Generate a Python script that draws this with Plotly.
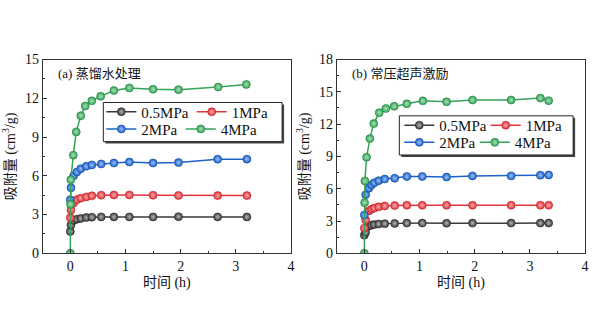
import plotly.graph_objects as go

# ---------------- data ----------------
series_names = ["0.5MPa", "1MPa", "2MPa", "4MPa"]
colors = ["#3a3a3a", "#e5343a", "#1c62cf", "#33a456"]
highlight = ["#b5b5b5", "#f6aaac", "#9cc0f2", "#a9e0b8"]
edge = ["#2a2a2a", "#b82228", "#134a9e", "#22803f"]

# (a) distilled water treatment
t_a = [0.0, 0.012, 0.06, 0.12, 0.19, 0.29, 0.39, 0.56, 0.79, 1.07, 1.5, 1.96, 2.67, 3.2]
a_05 = [1.70, 2.20, 2.55, 2.64, 2.70, 2.77, 2.80, 2.82, 2.82, 2.82, 2.82, 2.84, 2.82, 2.82]
a_1 = [2.75, 3.36, 3.90, 4.15, 4.27, 4.37, 4.45, 4.50, 4.52, 4.52, 4.50, 4.48, 4.47, 4.47]
a_2 = [4.15, 5.07, 6.00, 6.30, 6.55, 6.74, 6.84, 6.92, 6.99, 7.07, 6.99, 7.03, 7.29, 7.29]
t_a4 = [0.0, 0.004, 0.01, 0.054, 0.107, 0.19, 0.27, 0.39, 0.55, 0.79, 1.07, 1.5, 1.96, 2.68, 3.19]
a_4 = [0.0, 3.80, 5.70, 7.60, 9.40, 10.65, 11.40, 11.80, 12.15, 12.60, 12.80, 12.70, 12.67, 12.87, 13.07]

# (b) atmospheric-pressure ultrasonic excitation
t_b = [0.0, 0.024, 0.084, 0.13, 0.18, 0.26, 0.37, 0.55, 0.77, 1.05, 1.49, 1.96, 2.66, 3.19, 3.34]
b_05 = [1.69, 1.95, 2.55, 2.62, 2.67, 2.72, 2.76, 2.78, 2.81, 2.81, 2.80, 2.81, 2.81, 2.81, 2.81]
b_1 = [2.34, 3.10, 3.94, 4.10, 4.20, 4.32, 4.40, 4.44, 4.47, 4.47, 4.47, 4.47, 4.47, 4.47, 4.47]
b_2 = [3.55, 5.45, 6.05, 6.35, 6.55, 6.75, 6.90, 6.98, 7.14, 7.14, 7.08, 7.19, 7.19, 7.26, 7.28]
t_b4 = [0.0, 0.005, 0.01, 0.041, 0.10, 0.17, 0.27, 0.39, 0.54, 0.77, 1.06, 1.49, 1.96, 2.66, 3.19, 3.34]
b_4 = [0.0, 4.71, 6.72, 8.92, 10.66, 12.05, 13.06, 13.45, 13.65, 13.89, 14.16, 14.07, 14.24, 14.24, 14.42, 14.18]

panel_titles = ["(a) 蒸馏水处理", "(b) 常压超声激励"]
x_title = "时间 (h)"
y_title = "吸附量 (cm<sup>3</sup>/g)"
x_ticks = [0, 1, 2, 3, 4]
y_ticks_a = [0, 3, 6, 9, 12, 15]
y_ticks_b = [0, 3, 6, 9, 12, 15, 18]

FONT = "Liberation Serif, Times New Roman, Noto Sans CJK SC, serif"
W, H = 600, 332

def px(x):
    return x / W

def py(y):
    return 1 - y / H

# legend layout (pixel positions of each entry: left x, center y)
legend_pos = {
    "a": [(102, 110), (193, 110), (102, 128), (182, 128)],
    "b": [(402, 124), (489, 124), (402, 142), (478, 142)],
}
legend_boxes = {"a": (104, 100, 284, 141), "b": (402, 114, 577, 155)}

fig = go.Figure()

panels = [
    ("x", "y", [(t_a, a_05), (t_a, a_1), (t_a, a_2), (t_a4, a_4)], "a"),
    ("x2", "y2", [(t_b, b_05), (t_b, b_1), (t_b, b_2), (t_b4, b_4)], "b"),
]
legend_layout = {}
k = 0
for xa, ya, data, tag in panels:
    for i, (tt, vv) in enumerate(data):
        k += 1
        lname = "legend" if k == 1 else f"legend{k}"
        fig.add_trace(go.Scatter(
            x=tt, y=vv, name=series_names[i], xaxis=xa, yaxis=ya, legend=lname,
            mode="lines+markers",
            line=dict(color=colors[i], width=1.5),
            marker=dict(size=8, color=colors[i],
                        gradient=dict(type="radial", color=highlight[i]),
                        line=dict(width=0.6, color=edge[i])),
        ))
        lx, ly = legend_pos[tag][i]
        legend_layout[lname] = dict(
            x=px(lx), y=py(ly), xanchor="left", yanchor="middle",
            bgcolor="rgba(0,0,0,0)", borderwidth=0,
            font=dict(family=FONT, size=15, color="#111111"), itemwidth=30,
        )

axis_common = dict(
    showline=True, linecolor="#333333", linewidth=1, mirror=True,
    ticks="inside", ticklen=4, tickwidth=1, tickcolor="#333333",
    showgrid=False, zeroline=False,
    tickfont=dict(family=FONT, size=14, color="#111111"),
)
xdom_a = [px(43), px(293)]
xdom_b = [px(339), px(589)]
ydom = [py(258), py(55)]

fig.update_layout(
    width=W, height=H, margin=dict(l=0, r=0, t=0, b=0),
    paper_bgcolor="white", plot_bgcolor="white",
    font=dict(family=FONT, color="#111111"),
    xaxis=dict(domain=xdom_a, range=[-0.5, 4], tickvals=x_ticks, anchor="y",
               minor=dict(ticks="inside", ticklen=2, dtick=0.5, tick0=0, tickcolor="#333333"),
               title=dict(text=x_title, font=dict(size=14, family=FONT), standoff=4), **axis_common),
    yaxis=dict(domain=ydom, range=[0, 15], tickvals=y_ticks_a, anchor="x",
               minor=dict(ticks="inside", ticklen=2, dtick=1.5, tick0=0, tickcolor="#333333"),
               title=dict(text=y_title, font=dict(size=14, family=FONT), standoff=6), **axis_common),
    xaxis2=dict(domain=xdom_b, range=[-0.5, 4], tickvals=x_ticks, anchor="y2",
                minor=dict(ticks="inside", ticklen=2, dtick=0.5, tick0=0, tickcolor="#333333"),
                title=dict(text=x_title, font=dict(size=14, family=FONT), standoff=4), **axis_common),
    yaxis2=dict(domain=ydom, range=[0, 18], tickvals=y_ticks_b, anchor="x2",
                minor=dict(ticks="inside", ticklen=2, dtick=1.5, tick0=0, tickcolor="#333333"),
                title=dict(text=y_title, font=dict(size=14, family=FONT), standoff=6), **axis_common),
    showlegend=True,
)
fig.update_layout(**legend_layout)

# legend frames with a small drop shadow (bottom/right)
for (x0, y0, x1, y1) in legend_boxes.values():
    fig.add_shape(type="rect", xref="paper", yref="paper",
                  x0=px(x0 + 2), x1=px(x1 + 2), y0=py(y1 + 2), y1=py(y0 + 2),
                  fillcolor="#444444", line=dict(width=0), layer="above")
    fig.add_shape(type="rect", xref="paper", yref="paper",
                  x0=px(x0), x1=px(x1), y0=py(y1), y1=py(y0),
                  fillcolor="white", line=dict(width=1, color="#222222"), layer="above")

fig.add_annotation(text=panel_titles[0], xref="paper", yref="paper", x=px(56), y=py(70),
                   xanchor="left", yanchor="middle", showarrow=False,
                   font=dict(family=FONT, size=13, color="#111111"))
fig.add_annotation(text=panel_titles[1], xref="paper", yref="paper", x=px(352), y=py(70),
                   xanchor="left", yanchor="middle", showarrow=False,
                   font=dict(family=FONT, size=13, color="#111111"))

fig.write_html("out.html")
